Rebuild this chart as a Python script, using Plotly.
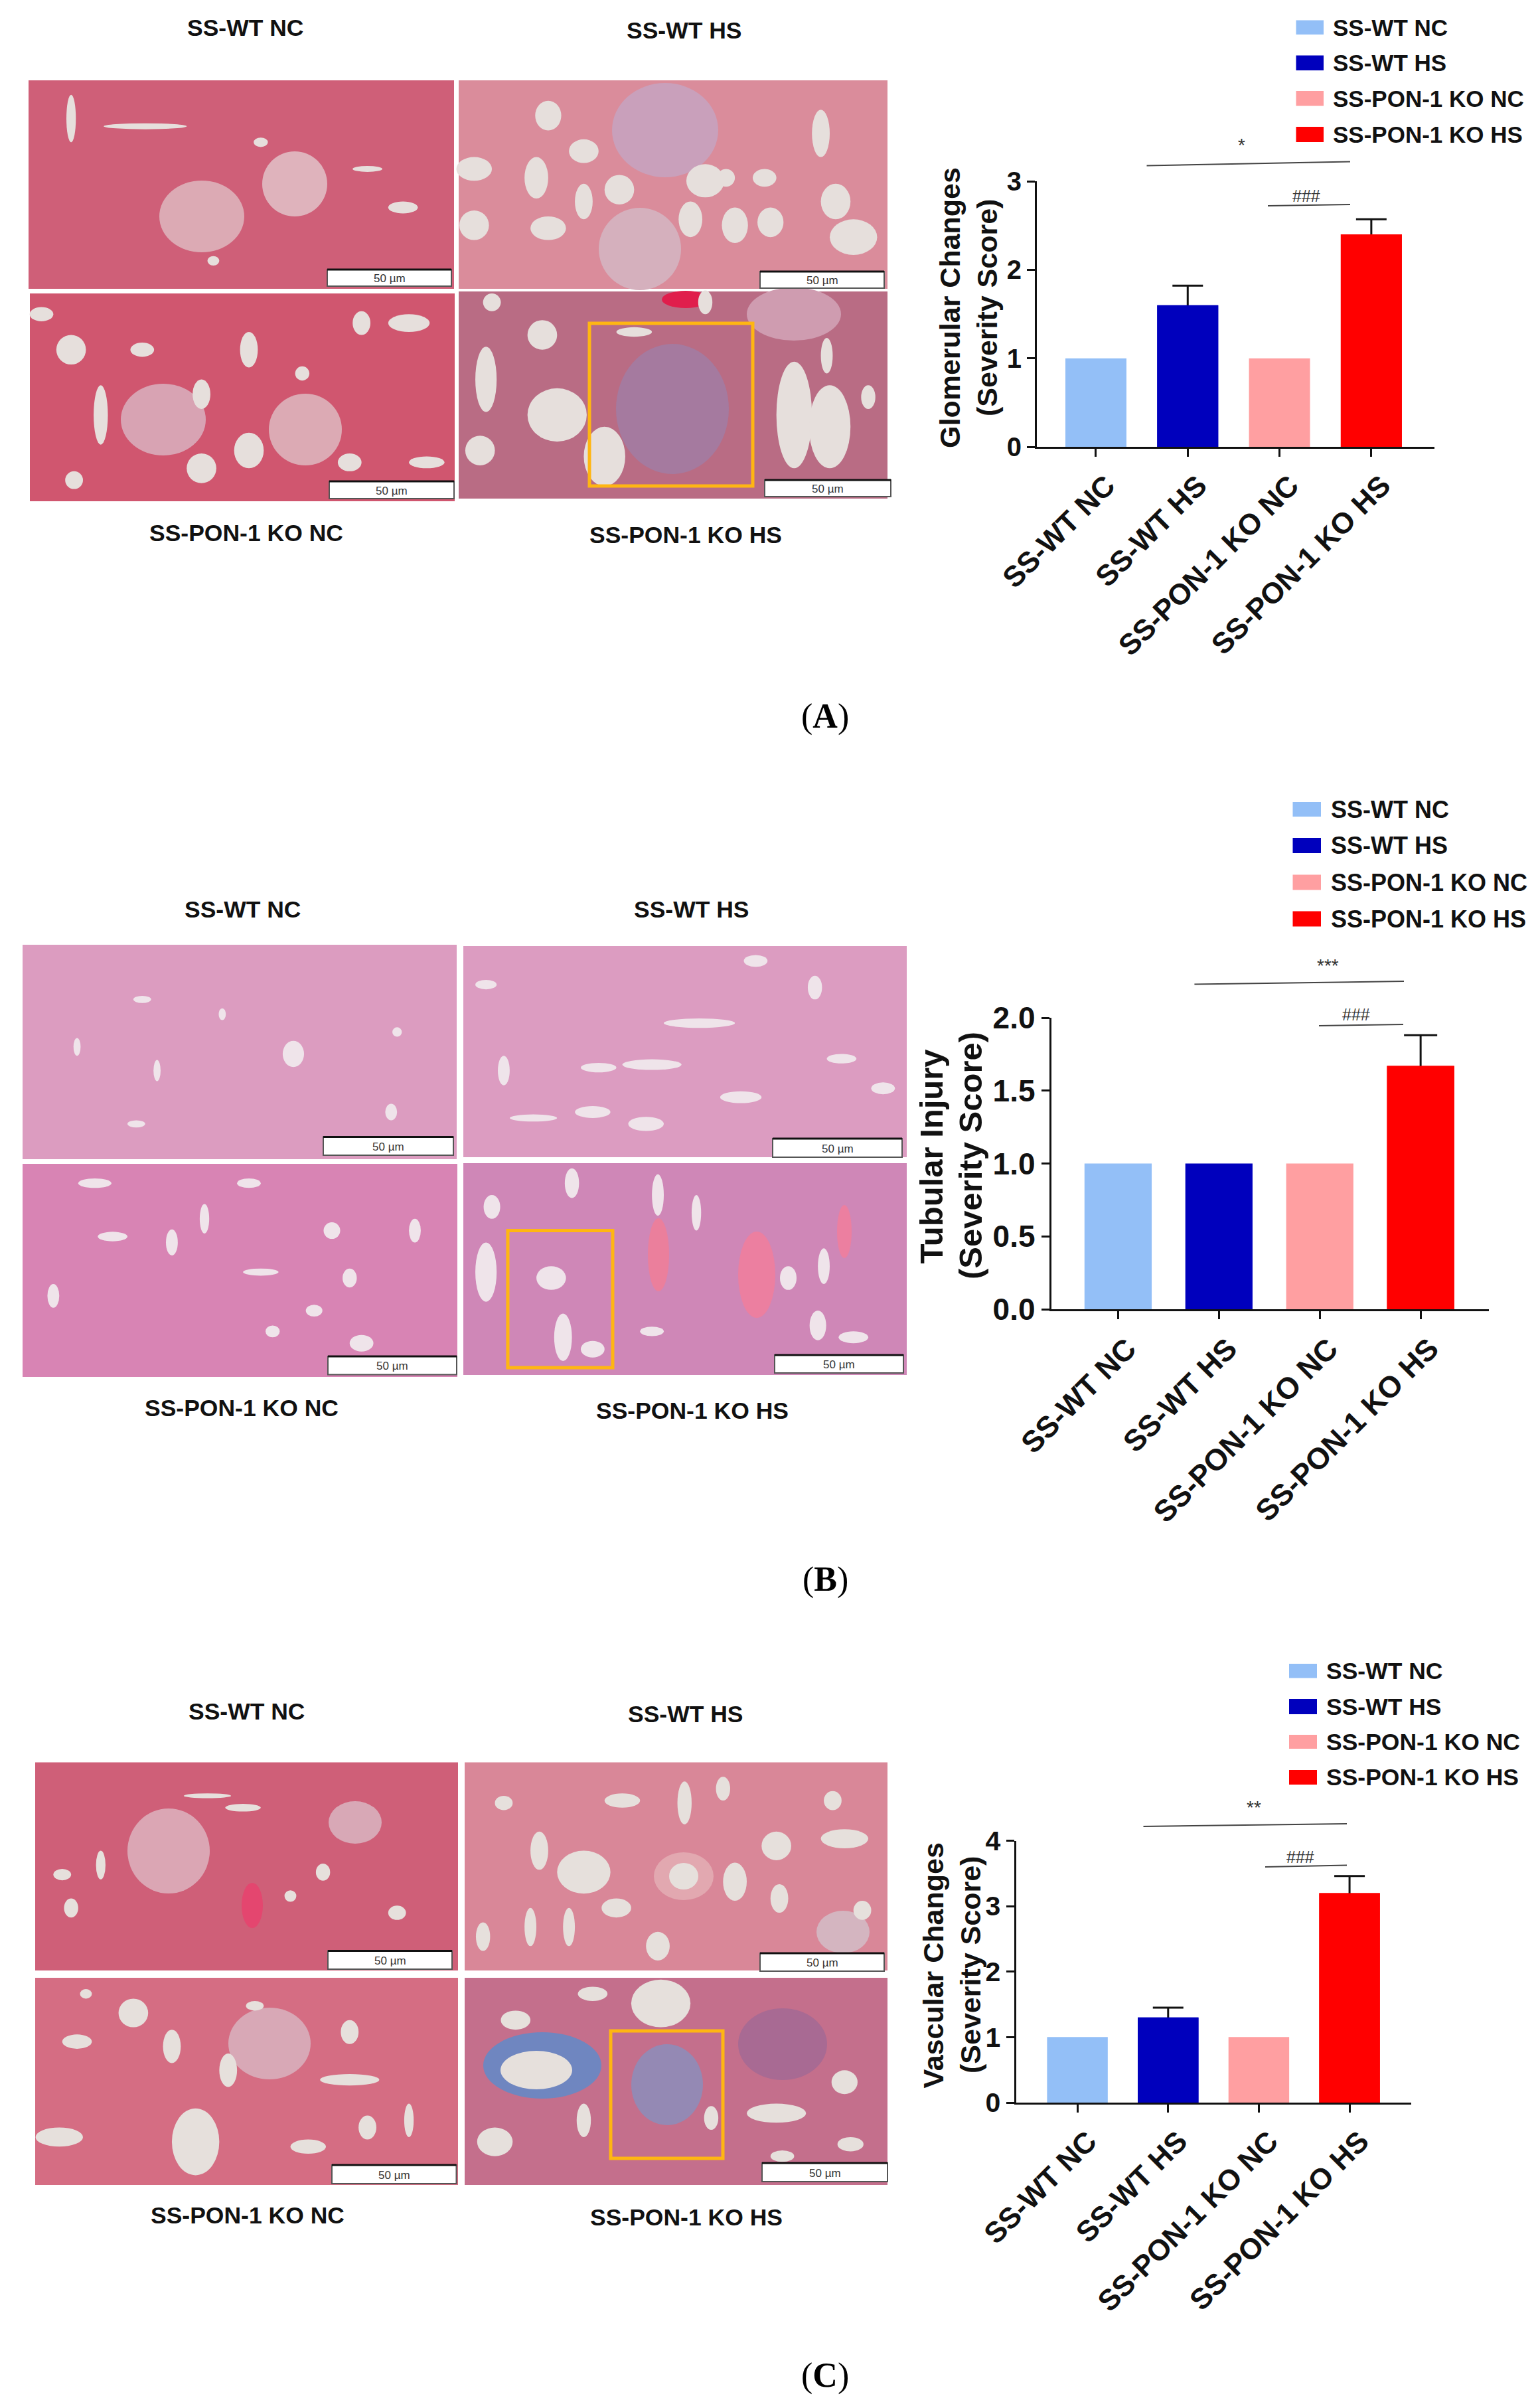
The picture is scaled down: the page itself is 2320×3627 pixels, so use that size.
import plotly.graph_objects as go

W, H = 2320, 3627
FONT = "Liberation Sans"

categories = ["SS-WT NC", "SS-WT HS", "SS-PON-1 KO NC", "SS-PON-1 KO HS"]
colors = ["#93bff7", "#0000bd", "#ff9fa1", "#ff0000"]
glomerular = [1.0, 1.6, 1.0, 2.4]
glomerular_err = [0, 0.22, 0, 0.17]
tubular = [1.0, 1.0, 1.0, 1.67]
tubular_err = [0, 0, 0, 0.21]
vascular = [1.0, 1.3, 1.0, 3.2]
vascular_err = [0, 0.15, 0, 0.26]

panels = [
    dict(vals=glomerular, errs=glomerular_err, title=["Glomerular Changes", "(Severity Score)"],
         ticks=[0, 1, 2, 3], ticktext=["0", "1", "2", "3"],
         dom=(1562, 2161, 273, 673), rng=(-0.6435, 3.688), ymax=3, barw=0.665, cap=23,
         tfont=40, cfont=44, tsize=43, shift=16, title_xy=[(1431, 464), (1487, 464)],
         leg_x=(1952.5, 1994, 2006), leg_y=[(30.6, 52), (83.5, 106), (137, 159.5), (191, 214)],
         star="*", star_xy=(1870, 218), l1=(1727.5, 249.4, 2034, 243.6),
         hash_xy=(1968, 295), l2=(1910, 310, 2034, 308), lfont=35),
    dict(vals=tubular, errs=tubular_err, title=["Tubular Injury", "(Severity Score)"],
         ticks=[0, 0.5, 1, 1.5, 2], ticktext=["0.0", "0.5", "1.0", "1.5", "2.0"],
         dom=(1583.75, 2243, 1533, 1972), rng=(-0.6626, 3.677), ymax=2, barw=0.6665, cap=25,
         tfont=46, cfont=45, tsize=49, shift=14, title_xy=[(1402.5, 1742), (1462, 1741)],
         leg_x=(1947.5, 1990, 2002.5), leg_y=[(1208, 1230), (1262, 1285), (1317.5, 1340.6), (1372.5, 1395.6)],
         star="***", star_xy=(2000.6, 1454), l1=(1799.4, 1482.5, 2115, 1478),
         hash_xy=(2042.5, 1528), l2=(1987, 1545, 2114, 1543), lfont=36),
    dict(vals=vascular, errs=vascular_err, title=["Vascular Changes", "(Severity Score)"],
         ticks=[0, 1, 2, 3, 4], ticktext=["0", "1", "2", "3", "4"],
         dom=(1530.6, 2126, 2772.5, 3167), rng=(-0.677, 3.68), ymax=4, barw=0.669, cap=23,
         tfont=41, cfont=44, tsize=43, shift=16, title_xy=[(1405.6, 2961), (1462, 2960)],
         leg_x=(1942, 1984, 1996), leg_y=[(2506, 2527.5), (2559, 2582), (2613, 2634), (2666, 2688)],
         star="**", star_xy=(1889, 2722), l1=(1722.5, 2751, 2029, 2747),
         hash_xy=(1959, 2797), l2=(1906, 2812, 2029, 2809.5), lfont=35.5),
]

# Stained-section photographs are sketched: tone, main structures, scale box, inset box.
photos = [
    ((43, 121, 684, 435), "#cf5f78", (493, 406, 680, 431)),
    ((691, 121, 1337, 435), "#da8c9b", (1145, 409, 1332, 434)),
    ((45, 442, 685, 755), "#d0566f", (496, 725, 684, 751)),
    ((691, 439, 1337, 751), "#b96c84", (1152, 723, 1342, 748)),
    ((34, 1423, 688, 1746), "#dc9cc0", (487, 1712.5, 683, 1740)),
    ((698, 1425, 1366, 1743), "#dc9cc1", (1164, 1715, 1359, 1743)),
    ((34, 1753, 689, 2074), "#d884b4", (494, 2043, 688, 2070.5)),
    ((698, 1752, 1366, 2071), "#cf87b7", (1167, 2041, 1361, 2068)),
    ((53, 2654.6, 690, 2968), "#cf5f78", (494, 2938.5, 681, 2966)),
    ((700, 2654.6, 1337, 2968), "#d98798", (1145, 2942, 1332, 2969)),
    ((53, 2979, 690, 3291), "#d56d83", (500, 3261, 687.5, 3289)),
    ((700, 2979, 1337, 3291), "#c46f8c", (1148, 3258, 1337, 3286)),
]
structures = [
    (304, 326, 64, 54, "#dcaab4"), (444, 277, 49, 49, "#dfb3bc"),
    (1002, 196, 80, 71, "#c9a0bb"), (964, 375, 62, 62, "#d5b0bd"),
    (246, 632, 64, 54, "#d8a3b3"), (460, 647, 55, 54, "#dcaab4"),
    (1013, 616, 85, 98, "#a57a9f"), (1196, 473, 71, 40, "#cf9cb0"),
    (1033, 451, 36, 13, "#e01e4c"),
    (992, 1890, 16, 55, "#eb7f9c"), (1140, 1920, 28, 65, "#ec7fa0"), (1272, 1855, 11, 40, "#ec7fa0"),
    (254, 2788, 62, 64, "#dba6b4"), (535, 2745, 40, 32, "#d8a8b6"), (380, 2870, 16, 34, "#e4466f"),
    (1030, 2826, 45, 36, "#e2a8b0"), (1030, 2826, 22, 20, "#e6e0dc"),
    (1270, 2910, 40, 32, "#d4b5c0"),
    (406, 3078, 62, 54, "#d8a8b6"),
    (817, 3111, 89, 50, "#6f86c0"), (808, 3118, 54, 29, "#e6e0dc"), (1005, 3140, 54, 61, "#9489b4"),
    (1179, 3079, 67, 54, "#a86a93"),
]
# Pale tubule lumens, as seen in 1.12x crops of the top panel (origin y=0).
lumens_a = [
    (120, 200, 8, 40), (245, 213, 70, 5), (680, 350, 25, 10), (620, 285, 25, 5), (440, 240, 12, 8), (360, 440, 10, 8),
    (800, 285, 30, 20), (925, 195, 22, 25), (905, 300, 20, 35), (985, 255, 25, 20), (1045, 320, 25, 25),
    (985, 340, 15, 30), (1165, 370, 20, 30), (1240, 380, 22, 30), (1300, 375, 22, 25), (1385, 225, 15, 40),
    (1410, 340, 25, 30), (1440, 400, 40, 30), (800, 380, 25, 25), (925, 385, 30, 20), (1225, 300, 15, 15),
    (1290, 300, 20, 15), (1190, 305, 32, 28),
    (70, 530, 20, 12), (120, 590, 25, 25), (420, 590, 15, 30), (510, 630, 12, 12), (170, 700, 12, 50),
    (420, 760, 25, 30), (610, 545, 15, 20), (590, 780, 20, 15), (690, 545, 35, 15), (340, 665, 15, 25),
    (125, 810, 15, 15), (340, 790, 25, 25), (240, 590, 20, 12), (720, 780, 30, 10),
    (820, 640, 18, 55), (1340, 700, 30, 90), (915, 565, 25, 25), (830, 510, 15, 15), (1465, 670, 12, 20),
    (1395, 600, 10, 30), (810, 760, 25, 25), (1070, 560, 30, 8), (1190, 510, 12, 20),
    (940, 700, 50, 45), (1020, 770, 35, 50), (1400, 720, 35, 70),
]
# Same, middle panel: 1.12x crop with origin y=1300.
lumens_b = [
    (495, 322, 18, 22), (265, 350, 6, 18), (240, 230, 15, 6), (670, 285, 8, 8), (375, 255, 6, 10),
    (660, 420, 10, 14), (230, 440, 15, 6), (130, 310, 6, 15),
    (1180, 270, 60, 8), (1100, 340, 50, 9), (1010, 345, 30, 8), (1250, 395, 35, 10), (1090, 440, 30, 12),
    (1000, 420, 30, 10), (850, 350, 10, 25), (820, 205, 18, 8), (1375, 210, 12, 20), (1275, 165, 20, 10),
    (1420, 330, 25, 8), (1490, 380, 20, 10), (900, 430, 40, 6),
    (560, 620, 14, 14), (590, 700, 12, 16), (530, 755, 14, 10), (290, 640, 10, 22), (190, 630, 25, 8),
    (90, 730, 10, 20), (700, 620, 10, 20), (420, 540, 20, 8), (345, 600, 8, 25), (610, 810, 20, 14),
    (460, 790, 12, 10), (160, 540, 28, 8), (440, 690, 30, 6),
    (830, 580, 14, 20), (820, 690, 18, 50), (965, 540, 12, 25), (1110, 560, 10, 35), (1175, 590, 8, 30),
    (1390, 680, 10, 30), (1330, 700, 14, 20), (1380, 780, 14, 25), (1440, 800, 25, 10), (1100, 790, 20, 8),
    (930, 700, 25, 20), (950, 800, 15, 40), (1000, 820, 20, 14),
]
# Same, bottom panel: 1.12x by 1.391x crop with origin y=2500 (radii in crop units).
lumens_c = [
    (120, 520, 12, 20), (170, 430, 8, 30), (545, 445, 12, 18), (350, 285, 40, 5), (410, 310, 30, 8),
    (670, 530, 15, 15), (105, 450, 15, 12), (490, 495, 10, 12),
    (1155, 300, 12, 45), (910, 400, 15, 40), (1050, 295, 30, 15), (985, 445, 45, 45), (1310, 390, 25, 30),
    (1425, 375, 40, 20), (1240, 465, 20, 40), (1315, 500, 15, 30), (850, 300, 15, 15), (1220, 270, 12, 25),
    (1405, 295, 15, 20), (1455, 525, 15, 20), (895, 560, 10, 40), (960, 560, 10, 40), (1040, 520, 25, 20),
    (1110, 600, 20, 30), (815, 580, 12, 30),
    (225, 740, 25, 30), (130, 800, 25, 15), (290, 810, 15, 35), (590, 780, 15, 25), (385, 860, 15, 35),
    (590, 880, 50, 12), (100, 1000, 40, 20), (520, 1020, 30, 15), (620, 980, 15, 25), (690, 965, 8, 35),
    (145, 700, 10, 10), (430, 725, 15, 10), (330, 1010, 40, 70),
    (1115, 720, 50, 50), (870, 755, 25, 20), (985, 965, 12, 35), (835, 1010, 30, 30), (1310, 950, 50, 20),
    (1425, 885, 22, 25), (1435, 1015, 22, 15), (1200, 960, 12, 25), (1000, 700, 25, 15), (1320, 1040, 20, 12),
]
insets = [(888, 487, 1134, 732), (765, 1853.6, 923, 2060), (920, 3059, 1089, 3251)]
photo_labels = [
    [(370, 42), (1031, 46), (370.5, 803), (1033, 806)],
    [(366, 1370), (1042, 1370), (364, 2121), (1043, 2125)],
    [(372, 2578), (1033, 2582), (373, 3337), (1034, 3340)],
]
panel_letters = [("A", 1079), ("B", 2379), ("C", 3578)]

PAGE_X, PAGE_Y = "x4", "y4"
shapes, annos = [], []


def rect(x0, y0, x1, y1, fill=None, line=None, lw=0, layer="below"):
    shapes.append(dict(type="rect", xref=PAGE_X, yref=PAGE_Y, x0=x0, x1=x1, y0=y0, y1=y1,
                       fillcolor=fill or "rgba(0,0,0,0)",
                       line=dict(color=line or "rgba(0,0,0,0)", width=lw), layer=layer))


def blob(cx, cy, rx, ry, c):
    shapes.append(dict(type="circle", xref=PAGE_X, yref=PAGE_Y, x0=cx - rx, x1=cx + rx,
                       y0=cy - ry, y1=cy + ry, fillcolor=c, line=dict(width=0), layer="below"))


def seg(x0, y0, x1, y1, color="#444444", lw=2):
    shapes.append(dict(type="line", xref=PAGE_X, yref=PAGE_Y, x0=x0, x1=x1, y0=y0, y1=y1,
                       line=dict(color=color, width=lw)))


def text(x, y, s, size, color="#111111", anchor="center", bold=True, angle=0, family=FONT):
    annos.append(dict(xref=PAGE_X, yref=PAGE_Y, x=x, y=y, text=f"<b>{s}</b>" if bold else s,
                      showarrow=False, xanchor=anchor, yanchor="middle", textangle=angle,
                      font=dict(family=family, size=size, color=color)))


for (x0, y0, x1, y1), tone, _ in photos:
    rect(x0, y0, x1, y1, fill=tone)
for cx, cy, rx, ry, c in structures:
    blob(cx, cy, rx, ry, c)
for cx, cy, rx, ry in lumens_a:
    blob(cx / 1.12, cy / 1.12, rx / 1.12, ry / 1.12, "#e6dfdc")
for cx, cy, rx, ry in lumens_b:
    blob(cx / 1.12, 1300 + cy / 1.12, rx / 1.12, ry / 1.12, "#efe4ea")
for cx, cy, rx, ry in lumens_c:
    blob(cx / 1.12, 2500 + cy / 1.391, rx / 1.12, ry / 1.391, "#e6e0dc")
for _, _, (x0, y0, x1, y1) in photos:
    rect(x0, y0, x1, y1, fill="#ffffff", line="#555555", lw=2, layer="above")
    seg(x0, y0, x1, y0, color="#111111", lw=3)
    text((x0 + x1) / 2, (y0 + y1) / 2 + 1, "50 µm", 17, color="#333333", bold=False)
for x0, y0, x1, y1 in insets:
    rect(x0, y0, x1, y1, line="#ffb612", lw=5, layer="above")
for labels in photo_labels:
    for (x, y), s in zip(labels, categories):
        text(x, y, s, 35.5)
for s, y in panel_letters:
    text(1243, y, f"(<b>{s}</b>)", 52, color="#000000", bold=False, family="Liberation Serif")

fig = go.Figure()
layout_axes = {}
for i, p in enumerate(panels):
    n = "" if i == 0 else str(i + 1)
    x0, x1, ytop, ybot = p["dom"]
    for cat, col, v, e in zip(categories, colors, p["vals"], p["errs"]):
        if e:
            # Whisker drawn first: the bar painted after it hides the lower cap, leaving the upper half only.
            fig.add_trace(go.Bar(
                x=[cat], y=[v], name=cat, width=p["barw"], showlegend=False, xaxis=f"x{n}", yaxis=f"y{n}",
                marker=dict(color=col, line=dict(width=0)), hoverinfo="skip",
                error_y=dict(type="data", array=[e], arrayminus=[e * 0.3], symmetric=False, color="#111111",
                             thickness=3, width=p["cap"]),
            ))
        fig.add_trace(go.Bar(
            x=[cat], y=[v], name=cat, width=p["barw"], showlegend=False, xaxis=f"x{n}", yaxis=f"y{n}",
            marker=dict(color=col, line=dict(width=0)),
        ))
    layout_axes[f"xaxis{n}"] = dict(
        domain=[x0 / W, x1 / W], anchor=f"y{n}", range=list(p["rng"]), type="category", automargin=False,
        categoryorder="array", categoryarray=categories, tickmode="array", tickvals=categories,
        ticktext=categories, tickangle=-45, ticklabelshift=p["shift"], showgrid=False, zeroline=False, showline=True,
        linecolor="#111111", linewidth=3, ticks="outside", ticklen=12, tickwidth=3, tickcolor="#111111",
        tickfont=dict(family=FONT, size=p["cfont"], color="#111111", weight="bold"))
    layout_axes[f"yaxis{n}"] = dict(
        domain=[1 - ybot / H, 1 - ytop / H], anchor=f"x{n}", range=[0, p["ymax"]], tickmode="array",
        tickvals=p["ticks"], ticktext=p["ticktext"], showgrid=False, zeroline=False, showline=True, automargin=False,
        linecolor="#111111", linewidth=3, ticks="outside", ticklen=12, tickwidth=3, tickcolor="#111111",
        tickfont=dict(family=FONT, size=p["tfont"], color="#111111", weight="bold"))
    for (tx, ty), s in zip(p["title_xy"], p["title"]):
        text(tx, ty, s, p["tsize"], angle=-90)
    lx0, lx1, tx = p["leg_x"]
    for (y0, y1), c, s in zip(p["leg_y"], colors, categories):
        rect(lx0, y0, lx1, y1, fill=c)
        text(tx, (y0 + y1) / 2, s, p["lfont"], anchor="left")
    seg(*p["l1"])
    seg(*p["l2"])
    text(*p["star_xy"], p["star"], 28, color="#333333", bold=False)
    text(*p["hash_xy"], "###", 25, color="#333333", bold=False)

# Invisible full-page axes in image pixels carry the photographs, captions and brackets.
fig.add_trace(go.Scatter(x=[0, W], y=[0, H], mode="none", xaxis=PAGE_X, yaxis=PAGE_Y,
                         showlegend=False, hoverinfo="skip"))
layout_axes["xaxis4"] = dict(domain=[0, 1], range=[0, W], visible=False, anchor="y4", fixedrange=True, automargin=False)
layout_axes["yaxis4"] = dict(domain=[0, 1], range=[H, 0], visible=False, anchor="x4", fixedrange=True, automargin=False)

fig.update_layout(width=W, height=H, margin=dict(l=0, r=0, t=0, b=0), autosize=False,
                  plot_bgcolor="rgba(0,0,0,0)", paper_bgcolor="white", barmode="overlay",
                  shapes=shapes, annotations=annos, showlegend=False, **layout_axes)
fig.write_html("out.html", post_script="document.body.style.margin='0';",
               config=dict(displayModeBar=False))
